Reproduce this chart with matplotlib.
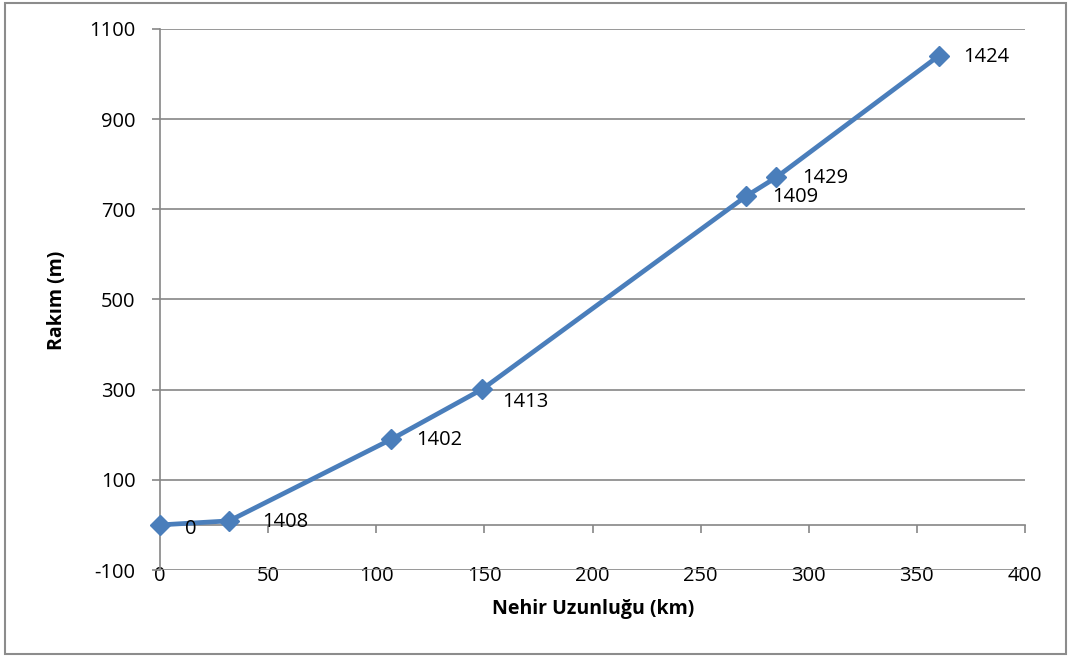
import matplotlib
matplotlib.use("Agg")
import matplotlib.pyplot as plt
from matplotlib.patches import Rectangle

plt.rcParams['font.family'] = ['Open Sans', 'DejaVu Sans']
plt.rcParams['axes.unicode_minus'] = False

# Data
x_km = [0, 32, 107, 149, 271, 285, 360]
y_m = [0, 9, 190, 301, 729, 771, 1040]
labels = ["0", "1408", "1402", "1413", "1409", "1429", "1424"]
label_offsets = [(25, -4), (33, -1), (25, -1), (20, -13), (26, -1), (26, -1), (25, -1)]
x_ticks = [0, 50, 100, 150, 200, 250, 300, 350, 400]
y_ticks = [-100, 100, 300, 500, 700, 900, 1100]

W, H = 1071, 657
fig = plt.figure(figsize=(W / 100, H / 100), dpi=100)
ax = fig.add_axes([160 / W, (H - 570) / H, (1025 - 160) / W, (570 - 29) / H])

grid_c = '#868686'
line_c = '#4A7EBB'

ax.set_xlim(0, 400)
ax.set_ylim(-100, 1100)
ax.set_xticks(x_ticks)
ax.set_yticks(y_ticks)
ax.yaxis.grid(True, color=grid_c, linewidth=1.2)
ax.set_axisbelow(True)

for s in ['top', 'right']:
    ax.spines[s].set_visible(False)
ax.spines['left'].set_color(grid_c)
ax.spines['left'].set_linewidth(1.2)
ax.spines['bottom'].set_position(('data', 0))
ax.spines['bottom'].set_color(grid_c)
ax.spines['bottom'].set_linewidth(1.2)

ax.tick_params(axis='y', direction='out', length=5.5, width=1.2, color=grid_c,
               labelsize=14.5, pad=12)
ax.tick_params(axis='x', direction='out', length=5.5, width=1.2, color=grid_c,
               labelsize=14.5, pad=24)

ax.plot(x_km, y_m, color=line_c, linewidth=3.4, marker='D', markersize=10,
        markerfacecolor=line_c, markeredgecolor=line_c, zorder=3, clip_on=False)

for xv, yv, lab, (dx, dy) in zip(x_km, y_m, labels, label_offsets):
    ax.annotate(lab, (xv, yv), xytext=(dx, dy), textcoords='offset pixels',
                ha='left', va='center', fontsize=14.5)

fig.text(57 / W, 1 - 300 / H, 'Rakım (m)', rotation=90, ha='center', va='center',
         fontsize=14, fontweight='bold')
fig.text(593 / W, 1 - 609 / H, 'Nehir Uzunluğu (km)', ha='center', va='center',
         fontsize=14, fontweight='bold')

fig.patches.append(Rectangle((5 / W, 3 / H), (W - 10) / W, (H - 6) / H,
                             transform=fig.transFigure, fill=False,
                             edgecolor='#8c8c8c', linewidth=1.5))

fig.savefig('out.png', dpi=100)
